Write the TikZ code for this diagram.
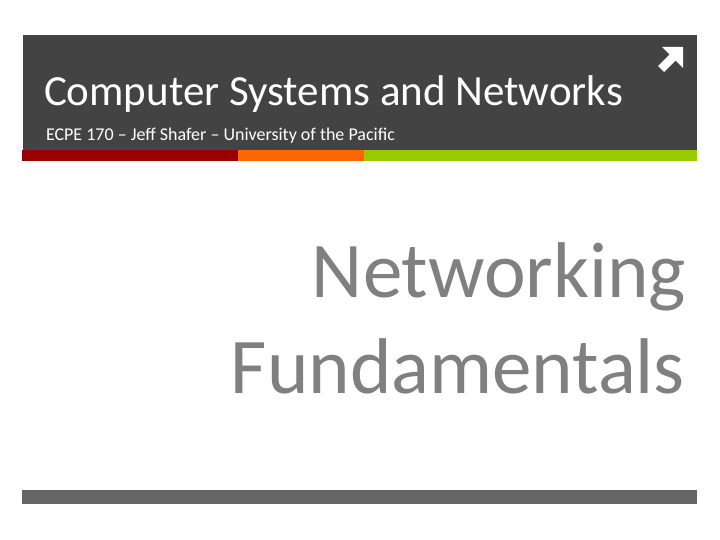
\documentclass[tikz,border=0pt]{standalone}
\usepackage{fontspec}
\setmainfont{Carlito}
\definecolor{headgray}{HTML}{434343}
\definecolor{barred}{HTML}{990000}
\definecolor{barorange}{HTML}{FF6600}
\definecolor{bargreen}{HTML}{99CC00}
\definecolor{textgray}{HTML}{808080}
\definecolor{footgray}{HTML}{666666}
\begin{document}
\begin{tikzpicture}[x=1pt, y=-1pt, every node/.style={inner sep=0pt, outer sep=0pt}]
	\useasboundingbox[fill=white] (0,0) rectangle (720,540);
	\fill[headgray] (23,35) rectangle (697,150);
	\fill[barred] (22,150) rectangle (238,161);
	\fill[barorange] (238,150) rectangle (364,161);
	\fill[bargreen] (364,150) rectangle (697,161);
	\fill[white] (683,47) -- (662,47) -- (669.5,54.5) -- (658,66) -- (664,72) -- (675.5,60.5) -- (683,68) -- cycle;
	\node[anchor=base west, text=white, font=\fontsize{43}{50}\selectfont] (title) at (44,106) {Computer Systems and Networks};
	\node[anchor=base west, text=white, font=\fontsize{18}{21}\selectfont] (subtitle) at (46,141) {ECPE 170 – Jeff Shafer – University of the Pacific};
	\node[anchor=base east, text=textgray, font=\fontsize{79}{92}\selectfont] (net) at (686,297) {Networking};
	\node[anchor=base east, text=textgray, font=\fontsize{79}{92}\selectfont] (fund) at (685,393) {Fundamentals};
	\fill[footgray] (22,490) rectangle (697,504);
\end{tikzpicture}
\end{document}
